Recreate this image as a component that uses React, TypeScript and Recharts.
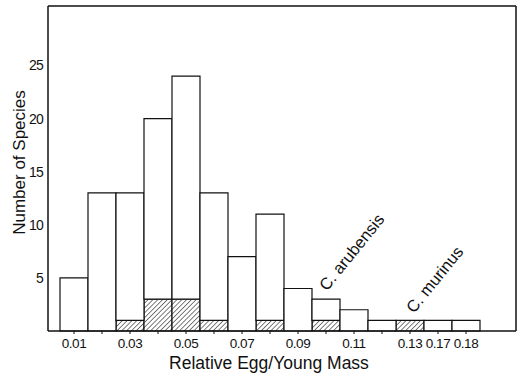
import { BarChart, Bar, XAxis, YAxis, ReferenceDot, CartesianGrid } from "recharts";

const BINS = [
  "0.01", "0.02", "0.03", "0.04", "0.05", "0.06", "0.07", "0.08",
  "0.09", "0.10", "0.11", "0.12", "0.13", "0.17", "0.18",
];
const TOTAL = [5, 13, 13, 20, 24, 13, 7, 11, 4, 3, 2, 1, 1, 1, 1];
const HATCHED = [0, 0, 1, 3, 3, 1, 0, 1, 0, 1, 0, 0, 1, 0, 0];
const LABELLED = ["0.01", "0.03", "0.05", "0.07", "0.09", "0.11", "0.13", "0.17", "0.18"];
const Y_TICKS = [5, 10, 15, 20, 25];

const NOTES = [
  { bin: "0.10", y: 3.7, text: "C. arubensis", dx: 1 },
  { bin: "0.13", y: 1.6, text: "C. murinus", dx: 4 },
];

const data = BINS.map((bin, i) => ({
  bin,
  hatched: HATCHED[i],
  rest: TOTAL[i] - HATCHED[i],
}));

const FONT = '"Liberation Sans", Arial, sans-serif';
const INK = "#111";

function NoteLabel({ viewBox, text, dx }: any) {
  const x = viewBox.x + dx;
  const y = viewBox.y;
  return (
    <text
      x={x}
      y={y}
      fontSize={16.5}
      fontFamily={FONT}
      fill={INK}
      transform={`rotate(-51 ${x} ${y})`}
    >
      {text}
    </text>
  );
}

function YTitle({ viewBox }: any) {
  const x = viewBox.x + 19;
  const y = viewBox.y + viewBox.height / 2 - 6;
  return (
    <text
      x={x}
      y={y}
      fontSize={17}
      fontFamily={FONT}
      fill={INK}
      textAnchor="middle"
      dominantBaseline="central"
      transform={`rotate(-90 ${x} ${y})`}
    >
      Number of Species
    </text>
  );
}

export default function App() {
  return (
    <div style={{ position: "absolute", left: 0, top: 0, background: "#fff" }}>
      <BarChart
        width={523}
        height={375}
        data={data}
        margin={{ top: 6, right: 7, left: 0, bottom: 0 }}
        barCategoryGap={0}
        style={{ fontFamily: FONT }}
      >
        <defs>
          <pattern
            id="hatch"
            width={3.4}
            height={3.4}
            patternUnits="userSpaceOnUse"
            patternTransform="rotate(45)"
          >
            <rect width={3.4} height={3.4} fill="#fff" />
            <line x1={0} y1={0} x2={0} y2={3.4} stroke={INK} strokeWidth={1.1} />
          </pattern>
        </defs>
        {/* top and right edges of the frame */}
        <CartesianGrid
          stroke={INK}
          strokeWidth={1.5}
          horizontalCoordinatesGenerator={({ offset }: any) => [offset.top]}
          verticalCoordinatesGenerator={({ offset }: any) => [offset.left + offset.width]}
        />
        <XAxis
          dataKey="bin"
          interval={0}
          padding={{ left: 12, right: 36 }}
          height={44}
          tickSize={3}
          tickMargin={4}
          tickLine={{ stroke: INK }}
          axisLine={{ stroke: INK, strokeWidth: 1.5 }}
          tick={{ fill: INK, fontSize: 13.5, letterSpacing: -0.5 }}
          tickFormatter={(v: string) => (LABELLED.includes(v) ? v : "")}
          label={{
            value: "Relative Egg/Young Mass",
            position: "insideBottom",
            offset: 6,
            dx: -13,
            fill: INK,
            fontSize: 17.5,
          }}
        />
        <YAxis
          width={48}
          domain={[0, 30.6]}
          ticks={Y_TICKS}
          tickLine={false}
          tickSize={0}
          tickMargin={5}
          axisLine={{ stroke: INK, strokeWidth: 1.5 }}
          tick={{ fill: INK, fontSize: 14, letterSpacing: -0.8 }}
          label={{ content: YTitle }}
        />
        <Bar
          dataKey="hatched"
          stackId="a"
          fill="url(#hatch)"
          stroke={INK}
          strokeWidth={1.2}
          isAnimationActive={false}
        />
        <Bar
          dataKey="rest"
          stackId="a"
          fill="#fff"
          stroke={INK}
          strokeWidth={1.2}
          isAnimationActive={false}
        />
        {NOTES.map((n) => (
          <ReferenceDot
            key={n.text}
            x={n.bin}
            y={n.y}
            r={0}
            fill="none"
            stroke="none"
            label={<NoteLabel text={n.text} dx={n.dx} />}
          />
        ))}
      </BarChart>
    </div>
  );
}
